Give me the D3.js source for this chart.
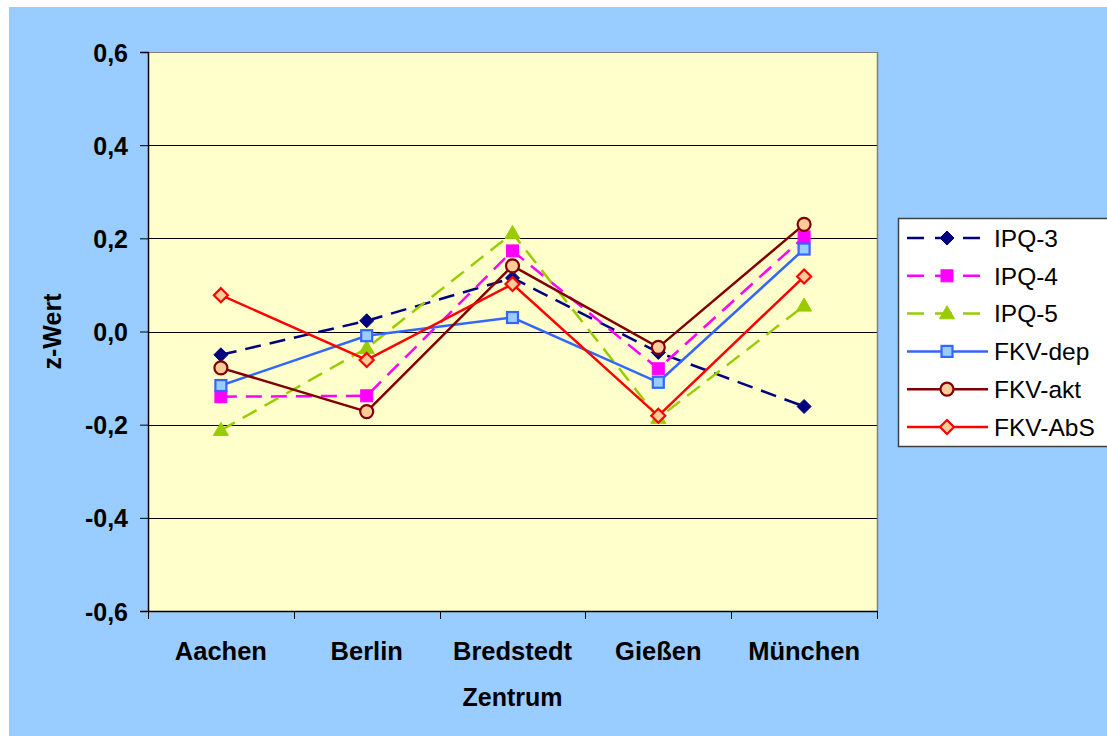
<!DOCTYPE html>
<html>
<head>
<meta charset="utf-8">
<script src="https://cdn.jsdelivr.net/npm/d3@7"></script>
<style>
  html, body { margin: 0; padding: 0; background: #fff; }
  svg { display: block; }
  text { font-family: "Liberation Sans", Arial, sans-serif; }
</style>
</head>
<body>
<svg id="chart" width="1107" height="736"></svg>
<script>
// ---- data ----
const categories = ["Aachen", "Berlin", "Bredstedt", "Gießen", "München"];
const seriesNames = ["IPQ-3", "IPQ-4", "IPQ-5", "FKV-dep", "FKV-akt", "FKV-AbS"];
const ipq3   = [-0.050,  0.023,  0.115, -0.045, -0.161];
const ipq4   = [-0.140, -0.138,  0.173, -0.080,  0.203];
const ipq5   = [-0.212, -0.036,  0.211, -0.186,  0.055];
const fkvDep = [-0.116, -0.009,  0.030, -0.109,  0.177];
const fkvAkt = [-0.078, -0.172,  0.141, -0.034,  0.230];
const fkvAbS = [ 0.078, -0.061,  0.102, -0.181,  0.118];
const yTicks = [-0.6, -0.4, -0.2, 0.0, 0.2, 0.4, 0.6];
const yTickLabels = ["-0,6", "-0,4", "-0,2", "0,0", "0,2", "0,4", "0,6"];
const xTitle = "Zentrum";
const yTitle = "z-Wert";

const seriesValues = [ipq3, ipq4, ipq5, fkvDep, fkvAkt, fkvAbS];
const styles = [
  { line: "#000080", dash: "16,9", marker: "diamondFilled", fill: "#000080", stroke: "#000080" },
  { line: "#FF00FF", dash: "16,9", marker: "square", fill: "#FF00FF", stroke: "#FF00FF" },
  { line: "#99CC00", dash: "16,9", marker: "triangle", fill: "#99CC00", stroke: "#99CC00" },
  { line: "#3366FF", dash: null, marker: "squareOpen", fill: "#99CCFF", stroke: "#3366FF" },
  { line: "#800000", dash: null, marker: "circle", fill: "#FFCC99", stroke: "#800000" },
  { line: "#FF0000", dash: null, marker: "diamond", fill: "#FFCC99", stroke: "#FF0000" }
];

// ---- layout ----
const svg = d3.select("#chart");
const L = 148, R = 877, T = 52, B = 611;

svg.append("rect").attr("x", 9).attr("y", 7).attr("width", 1107 - 9).attr("height", 736 - 7)
  .attr("fill", "#99CCFF");

const x = d3.scaleBand().domain(categories).range([L, R]).padding(0);
const y = d3.scaleLinear().domain([-0.6, 0.6]).range([B, T]);

svg.append("rect").attr("x", L).attr("y", T).attr("width", R - L).attr("height", B - T)
  .attr("fill", "#FFFFCC");

// gridlines
svg.append("g").selectAll("line").data(yTicks.filter(v => v > -0.6)).join("line")
  .attr("x1", L).attr("x2", R)
  .attr("y1", d => Math.round(y(d)) + 0.5).attr("y2", d => Math.round(y(d)) + 0.5)
  .attr("stroke", d => d === 0.6 ? "#808080" : "#000").attr("stroke-width", 1);

// right border
svg.append("line").attr("x1", R + 0.5).attr("x2", R + 0.5).attr("y1", T).attr("y2", B)
  .attr("stroke", "#808080").attr("stroke-width", 1.5);

// y axis
const yAxis = d3.axisLeft(y).tickValues(yTicks).tickSize(8)
  .tickFormat((d, i) => yTickLabels[i]);
const gy = svg.append("g").attr("transform", `translate(${L},0)`).call(yAxis);
gy.select(".domain").attr("stroke", "#000").attr("stroke-width", 1.5);
gy.selectAll(".tick line").attr("stroke", "#000");
gy.selectAll(".tick text").attr("font-size", 25).attr("font-weight", "bold")
  .attr("fill", "#000").attr("x", -20).attr("dy", "0.36em")
  .style("font-family", "'Liberation Sans', Arial, sans-serif");

// x axis
const xAxis = d3.axisBottom(x).tickSize(0).tickPadding(0);
const gx = svg.append("g").attr("transform", `translate(0,${B})`).call(xAxis);
gx.select(".domain").attr("stroke", "#000").attr("stroke-width", 1.5);
gx.selectAll(".tick text").attr("font-size", 25.5).attr("font-weight", "bold")
  .attr("fill", "#000").attr("y", 49).attr("dy", 0)
  .style("font-family", "'Liberation Sans', Arial, sans-serif");
// category boundary tick marks
const bounds = categories.map(c => x(c)).concat([x(categories[categories.length - 1]) + x.bandwidth()]);
svg.append("g").selectAll("line").data(bounds).join("line")
  .attr("x1", d => Math.round(d) + 0.5).attr("x2", d => Math.round(d) + 0.5)
  .attr("y1", B).attr("y2", B + 8).attr("stroke", "#000").attr("stroke-width", 1);

// axis titles
svg.append("text").attr("x", (L + R) / 2).attr("y", 706)
  .attr("text-anchor", "middle").attr("font-size", 25).attr("font-weight", "bold")
  .text(xTitle);
svg.append("text").attr("transform", `translate(61,${(T + B) / 2}) rotate(-90)`)
  .attr("text-anchor", "middle").attr("font-size", 25).attr("font-weight", "bold")
  .text(yTitle);

// marker drawer
function drawMarker(g, type, cx, cy, st) {
  if (type === "diamondFilled") {
    const s = 7;
    g.append("path").attr("d", `M${cx},${cy - s}L${cx + s},${cy}L${cx},${cy + s}L${cx - s},${cy}Z`)
      .attr("fill", st.fill).attr("stroke", st.stroke).attr("stroke-width", 1);
  } else if (type === "diamond") {
    const s = 7;
    g.append("path").attr("d", `M${cx},${cy - s}L${cx + s},${cy}L${cx},${cy + s}L${cx - s},${cy}Z`)
      .attr("fill", st.fill).attr("stroke", st.stroke).attr("stroke-width", 2.2);
  } else if (type === "square") {
    const s = 6;
    g.append("rect").attr("x", cx - s).attr("y", cy - s).attr("width", 2 * s).attr("height", 2 * s)
      .attr("fill", st.fill).attr("stroke", st.stroke).attr("stroke-width", 1);
  } else if (type === "squareOpen") {
    const s = 5.5;
    g.append("rect").attr("x", cx - s).attr("y", cy - s).attr("width", 2 * s).attr("height", 2 * s)
      .attr("fill", st.fill).attr("stroke", st.stroke).attr("stroke-width", 2.2);
  } else if (type === "triangle") {
    const w = 7.5, h = 13;
    g.append("path").attr("d", `M${cx},${cy - h * 0.6}L${cx + w},${cy + h * 0.4}L${cx - w},${cy + h * 0.4}Z`)
      .attr("fill", st.fill).attr("stroke", st.stroke).attr("stroke-width", 1);
  } else if (type === "circle") {
    g.append("circle").attr("cx", cx).attr("cy", cy).attr("r", 6.5)
      .attr("fill", st.fill).attr("stroke", st.stroke).attr("stroke-width", 2.2);
  }
}

// series
const cx = c => x(c) + x.bandwidth() / 2;
const lineGen = d3.line().x((d, i) => cx(categories[i])).y(d => y(d));
seriesValues.forEach((vals, si) => {
  const st = styles[si];
  const g = svg.append("g");
  g.append("path").attr("d", lineGen(vals)).attr("fill", "none")
    .attr("stroke", st.line).attr("stroke-width", 2.5)
    .attr("stroke-dasharray", st.dash);
  vals.forEach((v, i) => drawMarker(g, st.marker, cx(categories[i]), y(v), st));
});

// legend
const lg = svg.append("g");
lg.append("rect").attr("x", 898.5).attr("y", 218.5).attr("width", 230).attr("height", 228)
  .attr("fill", "#fff").attr("stroke", "#404040").attr("stroke-width", 1.5);
seriesNames.forEach((name, i) => {
  const st = styles[i];
  const ly = 238 + i * 37.8;
  lg.append("line").attr("x1", 907).attr("x2", 988).attr("y1", ly).attr("y2", ly)
    .attr("stroke", st.line).attr("stroke-width", 2.5)
    .attr("stroke-dasharray", st.dash ? "17,11" : null);
  drawMarker(lg, st.marker, 947, ly, st);
  lg.append("text").attr("x", 994).attr("y", ly).attr("dy", "0.36em")
    .attr("font-size", 24.5).attr("fill", "#000").text(name);
});
</script>
</body>
</html>
